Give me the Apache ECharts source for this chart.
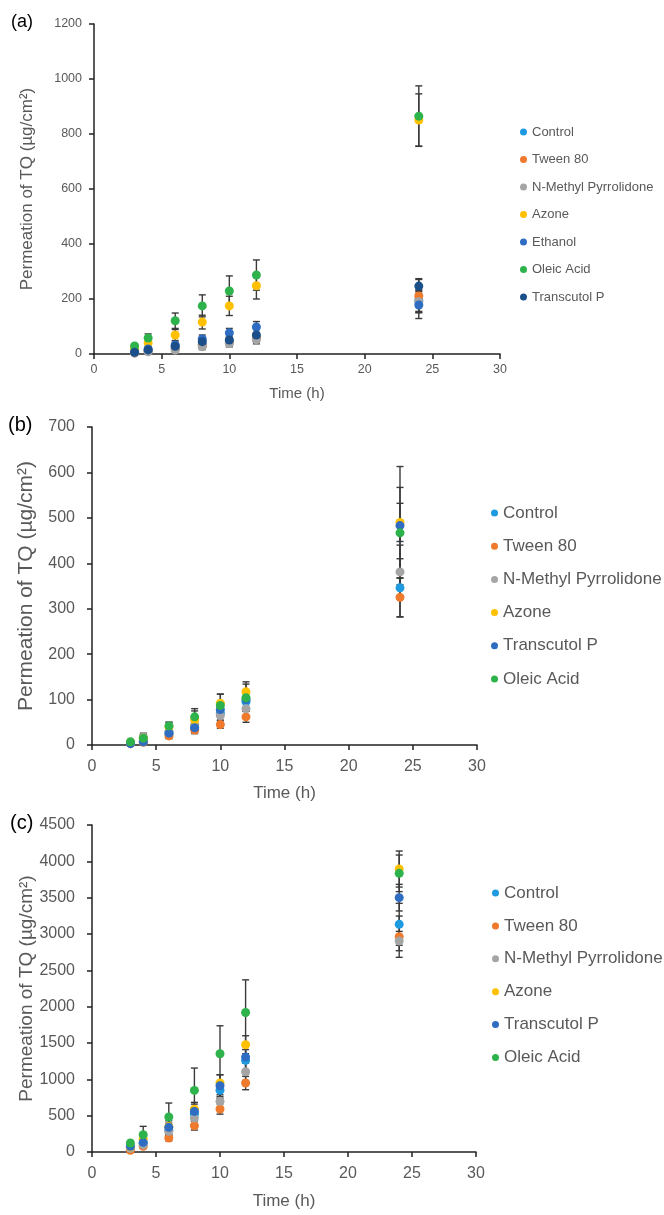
<!DOCTYPE html>
<html><head><meta charset="utf-8">
<script src="https://cdn.jsdelivr.net/npm/echarts@6/dist/echarts.min.js"></script>
<style>html,body{margin:0;padding:0;background:#fff}#c{width:664px;height:1215px}</style>
</head><body><div id="c"></div>
<script>
// ---------- data ----------
const times = [3, 4, 6, 8, 10, 12, 24];
const xTicks = [0, 5, 10, 15, 20, 25, 30];

// panel (a)
const aControl    = [5, 12, 22, 35, 48, 62, 195];
const aTween      = [4, 10, 18, 30, 42, 58, 211];
const aNMP        = [3, 8, 14, 26, 38, 52, 190];
const aAzone      = [20, 40, 69, 116, 175, 248, 851];
const aEthanol    = [8, 18, 33, 55, 77, 98, 178];
const aOleic      = [29, 58, 121, 175, 229, 287, 865];
const aTranscutol = [6, 15, 28, 45, 51, 69, 247];
const aControlErr    = [3, 5, 8, 10, 12, 15, 40];
const aTweenErr      = [3, 5, 8, 10, 12, 15, 60];
const aNMPErr        = [3, 5, 8, 10, 12, 15, 40];
const aAzoneErr      = [8, 15, 20, 25, 35, 48, 95];
const aEthanolErr    = [4, 6, 10, 14, 16, 20, 49];
const aOleicErr      = [8, 15, 28, 40, 55, 55, 110];
const aTranscutolErr = [3, 6, 10, 14, 16, 20, 27];

// panel (b)
const bControl    = [4, 8, 25, 38, 70, 95, 346];
const bTween      = [3, 6, 20, 33, 45, 62, 325];
const bNMP        = [5, 18, 30, 45, 65, 80, 381];
const bAzone      = [6, 15, 40, 55, 92, 117, 490];
const bTranscutol = [3, 7, 26, 38, 78, 100, 483];
const bOleic      = [7, 15, 42, 62, 87, 104, 467];
const bControlErr    = [3, 5, 6, 10, 15, 20, 64];
const bTweenErr      = [3, 4, 6, 8, 8, 12, 43];
const bNMPErr        = [4, 8, 8, 15, 18, 20, 59];
const bAzoneErr      = [5, 8, 10, 20, 20, 22, 42];
const bTranscutolErr = [3, 4, 6, 10, 15, 20, 130];
const bOleicErr      = [5, 8, 8, 18, 25, 30, 100];

// panel (c)
const cControl    = [60, 120, 300, 520, 850, 1260, 3133];
const cTween      = [23, 78, 192, 362, 591, 949, 2963];
const cNMP        = [50, 100, 284, 467, 697, 1104, 2903];
const cAzone      = [70, 180, 350, 590, 949, 1476, 3894];
const cTranscutol = [78, 133, 339, 559, 912, 1306, 3500];
const cOleic      = [124, 238, 481, 848, 1352, 1920, 3835];
const cControlErr    = [15, 30, 60, 90, 110, 150, 289];
const cTweenErr      = [10, 25, 40, 60, 70, 92, 284];
const cNMPErr        = [15, 30, 50, 80, 90, 120, 133];
const cAzoneErr      = [15, 50, 80, 93, 114, 124, 248];
const cTranscutolErr = [20, 40, 60, 100, 150, 180, 183];
const cOleicErr      = [20, 115, 193, 307, 385, 449, 252];

const yTicksA = [0, 200, 400, 600, 800, 1000, 1200];
const yTicksB = [0, 100, 200, 300, 400, 500, 600, 700];
const yTicksC = [0, 500, 1000, 1500, 2000, 2500, 3000, 3500, 4000, 4500];

// ---------- style ----------
const COL = {
  control: '#1E9BE0', tween: '#F07A2C', nmp: '#A5A5A5', azone: '#FFC000',
  blue: '#2E6DC2', oleic: '#2EB34C', dark: '#1B4F8A'
};
const GRAY = '#595959';
const FONT = '"Liberation Sans", Arial, sans-serif';

const panels = [
  {
    tag: '(a)', grid: {left: 94, top: 24, width: 406, height: 330},
    yMax: 1200, yInt: 200, yTicks: yTicksA,
    tickFont: 12.5, nameFont: 17, timeFont: 15, timeGap: 32, labelMargin: 9, yNameGap: 58,
    legend: {left: 520, top: 125, font: 13, lh: 14, gap: 13.5},
    series: [
      ['Control', aControl, aControlErr, COL.control],
      ['Tween 80', aTween, aTweenErr, COL.tween],
      ['N-Methyl Pyrrolidone', aNMP, aNMPErr, COL.nmp],
      ['Azone', aAzone, aAzoneErr, COL.azone],
      ['Ethanol', aEthanol, aEthanolErr, COL.blue],
      ['Oleic Acid', aOleic, aOleicErr, COL.oleic],
      ['Transcutol P', aTranscutol, aTranscutolErr, COL.dark]
    ],
    titleTop: 13, titleLeft: 11, titleFont: 18
  },
  {
    tag: '(b)', grid: {left: 92, top: 427, width: 385, height: 318},
    yMax: 700, yInt: 100, yTicks: yTicksB,
    tickFont: 16, nameFont: 21, timeFont: 17, timeGap: 40, labelMargin: 14, yNameGap: 55,
    legend: {left: 491, top: 504.5, font: 17, lh: 17, gap: 16.2},
    series: [
      ['Control', bControl, bControlErr, COL.control],
      ['Tween 80', bTween, bTweenErr, COL.tween],
      ['N-Methyl Pyrrolidone', bNMP, bNMPErr, COL.nmp],
      ['Azone', bAzone, bAzoneErr, COL.azone],
      ['Transcutol P', bTranscutol, bTranscutolErr, COL.blue],
      ['Oleic Acid', bOleic, bOleicErr, COL.oleic]
    ],
    titleTop: 415, titleLeft: 8, titleFont: 20
  },
  {
    tag: '(c)', grid: {left: 92, top: 825, width: 384, height: 327},
    yMax: 4500, yInt: 500, yTicks: yTicksC,
    tickFont: 16, nameFont: 19, timeFont: 17, timeGap: 41, labelMargin: 14, yNameGap: 56,
    legend: {left: 492, top: 884.5, font: 17, lh: 17, gap: 15.9},
    series: [
      ['Control', cControl, cControlErr, COL.control],
      ['Tween 80', cTween, cTweenErr, COL.tween],
      ['N-Methyl Pyrrolidone', cNMP, cNMPErr, COL.nmp],
      ['Azone', cAzone, cAzoneErr, COL.azone],
      ['Transcutol P', cTranscutol, cTranscutolErr, COL.blue],
      ['Oleic Acid', cOleic, cOleicErr, COL.oleic]
    ],
    titleTop: 813, titleLeft: 10, titleFont: 20
  }
];

function errRender(params, api) {
  const x = api.value(0), y = api.value(1), e = api.value(2);
  const top = api.coord([x, y + e]);
  const bot = api.coord([x, Math.max(0, y - e)]);
  const w = 3.5;
  const st = {stroke: '#3a3a3a', lineWidth: 1.4};
  return {type: 'group', children: [
    {type: 'line', shape: {x1: top[0], y1: top[1], x2: bot[0], y2: bot[1]}, style: st},
    {type: 'line', shape: {x1: top[0] - w, y1: top[1], x2: top[0] + w, y2: top[1]}, style: st},
    {type: 'line', shape: {x1: bot[0] - w, y1: bot[1], x2: bot[0] + w, y2: bot[1]}, style: st}
  ]};
}

const plain = v => String(v);

const option = {
  animation: false,
  backgroundColor: '#fff',
  title: [], grid: [], xAxis: [], yAxis: [], legend: [], series: []
};

panels.forEach((p, gi) => {
  option.title.push({text: p.tag, left: p.titleLeft, top: p.titleTop, padding: 0,
    textStyle: {fontFamily: FONT, fontSize: p.titleFont, fontWeight: 'normal', color: '#000'}});
  option.grid.push(p.grid);
  option.xAxis.push({
    type: 'value', gridIndex: gi, min: xTicks[0], max: xTicks[xTicks.length - 1], interval: 5,
    name: 'Time (h)', nameLocation: 'middle', nameGap: p.timeGap, nameMoveOverlap: false,
    nameTextStyle: {fontFamily: FONT, fontSize: p.timeFont, color: GRAY},
    axisLine: {lineStyle: {color: '#222', width: 1.5}},
    axisTick: {show: true, length: 5, lineStyle: {color: '#222', width: 1.5}},
    axisLabel: {fontFamily: FONT, fontSize: p.tickFont, color: GRAY, margin: p.labelMargin, formatter: plain},
    splitLine: {show: false}
  });
  option.yAxis.push({
    type: 'value', gridIndex: gi, min: p.yTicks[0], max: p.yMax, interval: p.yInt,
    name: 'Permeation of TQ (µg/cm²)', nameLocation: 'middle', nameGap: p.yNameGap, nameRotate: 90,
    nameMoveOverlap: false,
    nameTextStyle: {fontFamily: FONT, fontSize: p.nameFont, color: GRAY},
    axisLine: {show: true, lineStyle: {color: '#222', width: 1.5}},
    axisTick: {show: true, length: 5, lineStyle: {color: '#222', width: 1.5}},
    axisLabel: {fontFamily: FONT, fontSize: p.tickFont, color: GRAY, margin: p.labelMargin + 3, formatter: plain},
    splitLine: {show: false}
  });
  option.legend.push({
    orient: 'vertical', left: p.legend.left, top: p.legend.top, padding: 0,
    itemWidth: 7, itemHeight: 7, itemGap: p.legend.gap, icon: 'circle',
    textStyle: {fontFamily: FONT, fontSize: p.legend.font, color: GRAY, lineHeight: p.legend.lh},
    data: p.series.map(s => ({name: s[0], itemStyle: {color: s[3]}}))
  });
  p.series.forEach(s => {
    option.series.push({
      type: 'custom', name: s[0], xAxisIndex: gi, yAxisIndex: gi, z: 1,
      renderItem: errRender, encode: {x: 0, y: 1},
      data: times.map((t, i) => [t, s[1][i], s[2][i]]), silent: true
    });
  });
  p.series.forEach(s => {
    option.series.push({
      type: 'scatter', name: s[0], xAxisIndex: gi, yAxisIndex: gi, z: 3,
      symbol: 'circle', symbolSize: 9, itemStyle: {color: s[3], opacity: 1},
      data: times.map((t, i) => [t, s[1][i]])
    });
  });
});

const chart = echarts.init(document.getElementById('c'), null, {renderer: 'canvas'});
chart.setOption(option);
</script>
</body></html>
